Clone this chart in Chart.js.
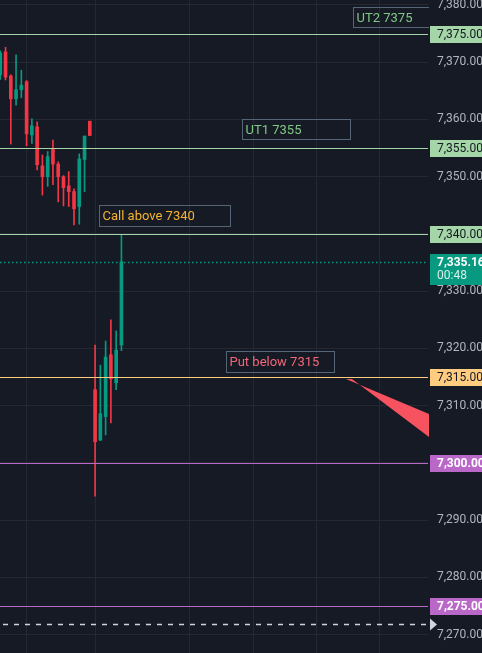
<!DOCTYPE html>
<html>
<head>
<meta charset="utf-8">
<script src="https://cdn.jsdelivr.net/npm/chart.js@4.4.0/dist/chart.umd.min.js"></script>
<style>
  html, body { margin: 0; padding: 0; background: #161a25; overflow: hidden; }
  #wrap { width: 482px; height: 653px; }
</style>
</head>
<body>
<div id="wrap"><canvas id="chart" width="482" height="653"></canvas></div>
<script>
// OHLC per bar, bar 0 is the one cut off at the left edge
const opens  = [7367.8, 7371.8, 7367.6, 7363.6, 7365.2, 7366.6, 7357.3, 7358.7, 7351.9, 7350.0, 7354.8, 7352.2,
                7350.0, 7348.4, 7347.4, 7344.8, 7353.0, 7359.7, 7312.8, 7304.0, 7308.1, 7318.9, 7314.0, 7320.6];
const highs  = [7372.0, 7372.6, 7367.8, 7371.3, 7368.6, 7366.8, 7360.1, 7359.6, 7353.8, 7354.4, 7356.4, 7352.6,
                7350.2, 7350.9, 7347.9, 7354.0, 7357.1, 7359.7, 7320.6, 7317.1, 7321.3, 7325.0, 7323.1, 7339.8];
const lows   = [7367.0, 7366.9, 7355.7, 7362.5, 7363.8, 7355.4, 7355.8, 7351.2, 7346.8, 7348.3, 7348.6, 7345.6,
                7344.9, 7344.8, 7341.6, 7341.7, 7347.4, 7357.2, 7294.2, 7303.9, 7304.9, 7307.0, 7312.8, 7319.6];
const closes = [7371.6, 7367.4, 7363.6, 7365.2, 7366.0, 7357.5, 7358.9, 7352.1, 7350.0, 7353.5, 7352.2, 7350.0,
                7348.1, 7347.4, 7344.4, 7353.1, 7357.1, 7357.2, 7303.7, 7308.6, 7318.5, 7314.7, 7319.7, 7335.16];

// time grid lines (bar numbers) and price ticks
const timeGrid = [5, 18, 36, 48, 60, 72];
const priceTicks = [7270, 7280, 7290, 7300, 7310, 7320, 7330, 7340, 7350, 7360, 7370, 7380];

// horizontal levels drawn on the chart
const levelPrices = [7375, 7355, 7340, 7315, 7300, 7275];
const lastPrice = 7335.16;
const countdown = '00:48';
const markerPrice = 7271.9;

// text notes
const noteTexts = ['UT2 7375', 'UT1 7355', 'Call above 7340', 'Put below 7315'];

const UP = '#089981';
const DOWN = '#f23645';
const BG = '#161a25';
const GRID = '#242833';

function levelStyle(p) {
    if (p >= 7340) return { line: '#a5d6a7', box: '#a5d6a7', text: '#131722' };
    if (p === 7315) return { line: '#ffcc80', box: '#ffcc80', text: '#131722' };
    return { line: '#ba68c8', box: '#ba68c8', text: '#ffffff' };
}

// note boxes in data space: [x from, x to, price top, price bottom], text colour
const noteBoxes = [
    { x0: 66.96, x1: 81.4, top: 7379.65, bot: 7376.15, color: '#81c784' },
    { x0: 45.9, x1: 66.4, top: 7360.08, bot: 7356.59, color: '#81c784' },
    { x0: 18.74, x1: 43.61, top: 7345.06, bot: 7341.44, color: '#f5b431' },
    { x0: 42.85, x1: 63.3, top: 7319.5, bot: 7315.94, color: '#f26877' }
];

function fmt(v) {
    return v.toLocaleString('en-US', { minimumFractionDigits: 2, maximumFractionDigits: 2 });
}

const idx = opens.map((o, i) => i);
const candleColors = idx.map(i => closes[i] >= opens[i] ? UP : DOWN);

const overlay = {
    id: 'overlay',
    beforeDraw(chart) {
        const ctx = chart.ctx;
        ctx.save();
        ctx.fillStyle = BG;
        ctx.fillRect(0, 0, chart.width, chart.height);
        ctx.restore();
    },
    afterDatasetsDraw(chart) {
        const { ctx, chartArea: a, scales: { x, y } } = chart;
        ctx.save();
        ctx.beginPath();
        ctx.rect(a.left, a.top, a.right - a.left + 1, a.bottom - a.top);
        ctx.clip();

        // red arrow head going off to the right
        ctx.fillStyle = '#f7525f';
        ctx.beginPath();
        ctx.moveTo(x.getPixelForValue(65.63), y.getPixelForValue(7314.66));
        ctx.lineTo(x.getPixelForValue(66.77), y.getPixelForValue(7314.66));
        ctx.lineTo(x.getPixelForValue(81.39), y.getPixelForValue(7304.53));
        ctx.lineTo(x.getPixelForValue(81.39), y.getPixelForValue(7308.55));
        ctx.closePath();
        ctx.fill();

        // level lines
        ctx.lineWidth = 1;
        levelPrices.forEach(p => {
            const py = Math.round(y.getPixelForValue(p)) + 0.5;
            ctx.strokeStyle = levelStyle(p).line;
            ctx.beginPath();
            ctx.moveTo(a.left, py);
            ctx.lineTo(a.right, py);
            ctx.stroke();
        });

        // last price dotted line
        let py = Math.round(y.getPixelForValue(lastPrice)) + 0.5;
        ctx.strokeStyle = UP;
        ctx.lineWidth = 1.5;
        ctx.setLineDash([1.5, 2.5]);
        ctx.beginPath();
        ctx.moveTo(a.left, py);
        ctx.lineTo(a.right, py);
        ctx.stroke();

        // dashed marker line
        py = Math.round(y.getPixelForValue(markerPrice)) + 0.5;
        ctx.strokeStyle = '#d1d4dc';
        ctx.lineWidth = 1.5;
        ctx.setLineDash([5, 6]);
        ctx.beginPath();
        ctx.moveTo(a.left + 3, py);
        ctx.lineTo(a.right, py);
        ctx.stroke();
        ctx.setLineDash([]);

        // notes
        ctx.font = '13px Roboto';
        ctx.textBaseline = 'middle';
        ctx.textAlign = 'left';
        noteBoxes.forEach((b, i) => {
            const l = Math.round(x.getPixelForValue(b.x0)) + 0.5;
            const r = Math.round(x.getPixelForValue(b.x1)) + 0.5;
            const t = Math.round(y.getPixelForValue(b.top)) + 0.5;
            const bt = Math.round(y.getPixelForValue(b.bot)) + 0.5;
            ctx.strokeStyle = '#566575';
            ctx.lineWidth = 1;
            ctx.strokeRect(l, t, r - l, bt - t);
            ctx.fillStyle = b.color;
            ctx.fillText(noteTexts[i], l + 3, (t + bt) / 2 + 1);
        });
        ctx.restore();

        // price axis boxes
        ctx.save();
        ctx.textBaseline = 'middle';
        ctx.textAlign = 'left';
        const bx = a.right + 2;
        levelPrices.forEach(p => {
            const s = levelStyle(p);
            const cy = Math.round(y.getPixelForValue(p));
            ctx.fillStyle = s.box;
            ctx.fillRect(bx, cy - 8, chart.width - bx, 17);
            ctx.fillStyle = s.text;
            ctx.font = (s.text === '#ffffff' ? 'bold ' : '') + '12px Roboto';
            ctx.fillText(fmt(p), bx + 7, cy + 1);
        });
        const ly = Math.round(y.getPixelForValue(lastPrice));
        ctx.fillStyle = UP;
        ctx.fillRect(bx, ly - 8, chart.width - bx, 31);
        ctx.fillStyle = '#ffffff';
        ctx.font = 'bold 12px Roboto';
        ctx.fillText(fmt(lastPrice), bx + 7, ly + 1);
        ctx.fillStyle = '#d8f0ea';
        ctx.font = '12px Roboto';
        ctx.fillText(countdown, bx + 7, ly + 14);

        // marker triangle
        const my = Math.round(y.getPixelForValue(markerPrice)) + 0.5;
        ctx.fillStyle = '#d1d4dc';
        ctx.beginPath();
        ctx.moveTo(bx, my - 6);
        ctx.lineTo(bx + 7, my);
        ctx.lineTo(bx, my + 6);
        ctx.closePath();
        ctx.fill();
        ctx.restore();
    }
};

const ctx = document.getElementById('chart').getContext('2d');
new Chart(ctx, {
    type: 'bar',
    data: {
        datasets: [{
            // wicks
            data: idx.map(i => ({ x: i, y: [lows[i], highs[i]] })),
            backgroundColor: candleColors,
            barThickness: 1,
            grouped: false,
            minBarLength: 1
        }, {
            // bodies
            data: idx.map(i => ({ x: i, y: [opens[i], closes[i]] })),
            backgroundColor: candleColors,
            barThickness: 3,
            grouped: false,
            minBarLength: 1
        }]
    },
    plugins: [overlay],
    options: {
        responsive: false,
        animation: false,
        events: [],
        layout: { padding: 0 },
        plugins: {
            legend: { display: false },
            tooltip: { enabled: false }
        },
        scales: {
            x: {
                type: 'linear',
                min: -0.05,
                max: 81.2,
                offset: false,
                border: { display: false },
                grid: { color: GRID, offset: false, drawTicks: false },
                ticks: { display: false },
                afterBuildTicks: scale => {
                    scale.ticks = timeGrid.map(v => ({ value: v }));
                },
                afterFit: scale => {
                    scale.height = 0;
                    scale.paddingLeft = 0;
                    scale.paddingRight = 0;
                }
            },
            y: {
                position: 'right',
                min: 7266.8,
                max: 7380.87,
                border: { display: false },
                grid: { color: GRID, drawTicks: false },
                ticks: {
                    color: '#b2b5be',
                    font: { family: 'Roboto', size: 12 },
                    padding: 9,
                    callback: v => fmt(v)
                },
                afterBuildTicks: scale => {
                    scale.ticks = priceTicks.map(v => ({ value: v }));
                },
                afterFit: scale => {
                    scale.width = 54;
                    scale.paddingTop = 0;
                    scale.paddingBottom = 0;
                }
            }
        }
    }
});
</script>
</body>
</html>
